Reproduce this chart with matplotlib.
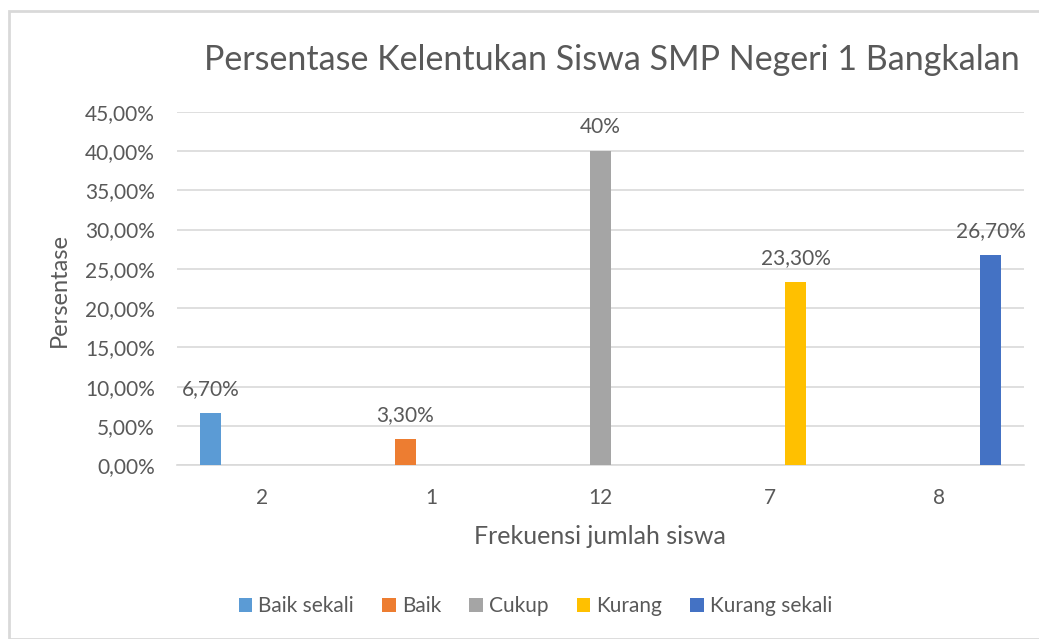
import matplotlib
matplotlib.use("Agg")
import matplotlib.pyplot as plt
from matplotlib.patches import Rectangle, Patch
import numpy as np

plt.rcParams['font.family'] = ['Lato', 'DejaVu Sans']

categories = ["2", "1", "12", "7", "8"]
series_names = ["Baik sekali", "Baik", "Cukup", "Kurang", "Kurang sekali"]
values = [0.067, 0.033, 0.40, 0.233, 0.267]
value_labels = ["6,70%", "3,30%", "40%", "23,30%", "26,70%"]
colors = ["#5B9BD5", "#ED7D31", "#A5A5A5", "#FFC000", "#4472C4"]
yticks = [0, 0.05, 0.10, 0.15, 0.20, 0.25, 0.30, 0.35, 0.40, 0.45]
title = "Persentase Kelentukan Siswa SMP Negeri 1 Bangkalan"

W, H = 1039, 639
fig = plt.figure(figsize=(W / 100, H / 100), dpi=100)
fig.patch.set_facecolor("white")

# chart border
fig.add_artist(Rectangle((9 / W, 0), (W - 9) / W + 0.01, (H - 11) / H,
                         transform=fig.transFigure, fill=False,
                         edgecolor="#D9D9D9", linewidth=2, clip_on=False))

ax_left, ax_right = 177 / W, 1024 / W
ax_bottom, ax_top = (H - 465.3) / H, (H - 111.7) / H
ax = fig.add_axes([ax_left, ax_bottom, ax_right - ax_left, ax_top - ax_bottom])

txt = "#595959"
step = 0.1517
width = 0.121
x = np.arange(len(categories))
for i, (name, col) in enumerate(zip(series_names, colors)):
    heights = [values[i] if j == i else 0 for j in range(len(categories))]
    pos = x + (i - 2) * step
    ax.bar(pos, heights, width=width, color=col, label=name, zorder=3)
    ax.annotate(value_labels[i], (pos[i], values[i]), xytext=(0, 13),
                textcoords="offset points", ha="center", va="baseline",
                fontsize=15, color=txt)

ax.set_xlim(-0.5, len(categories) - 0.5)
ax.set_ylim(0, 0.45)
ax.set_yticks(yticks)
ax.set_yticklabels([f"{v*100:.2f}%".replace(".", ",") for v in yticks])
ax.set_xticks(x)
ax.set_xticklabels(categories)
ax.tick_params(axis="both", length=0, labelsize=15, labelcolor=txt)
ax.tick_params(axis="y", pad=16)
ax.tick_params(axis="x", pad=16)
ax.grid(axis="y", color="#D9D9D9", linewidth=1.2, zorder=0)
for s in ["top", "right", "left"]:
    ax.spines[s].set_visible(False)
ax.spines["bottom"].set_color("#D9D9D9")
ax.spines["bottom"].set_linewidth(1.2)

fig.text(612 / W, 1 - 70 / H, title, ha="center", va="baseline",
         fontsize=24.5, color=txt)
fig.text(600 / W, 1 - 537 / H, "Frekuensi jumlah siswa", ha="center",
         va="center", fontsize=18, color=txt)
fig.text(59 / W, 1 - 290 / H, "Persentase", ha="center", va="center",
         rotation=90, fontsize=17, color=txt)

handles = [Patch(facecolor=c, edgecolor="none") for c in colors]
leg = fig.legend(handles, series_names, loc="center", ncol=5,
                 bbox_to_anchor=(535.5 / W, 1 - 606 / H), frameon=False,
                 fontsize=15, handlelength=0.65, handleheight=0.65,
                 handletextpad=0.3, columnspacing=1.35)
for t in leg.get_texts():
    t.set_color(txt)

fig.savefig("out.png", dpi=100, facecolor="white")
